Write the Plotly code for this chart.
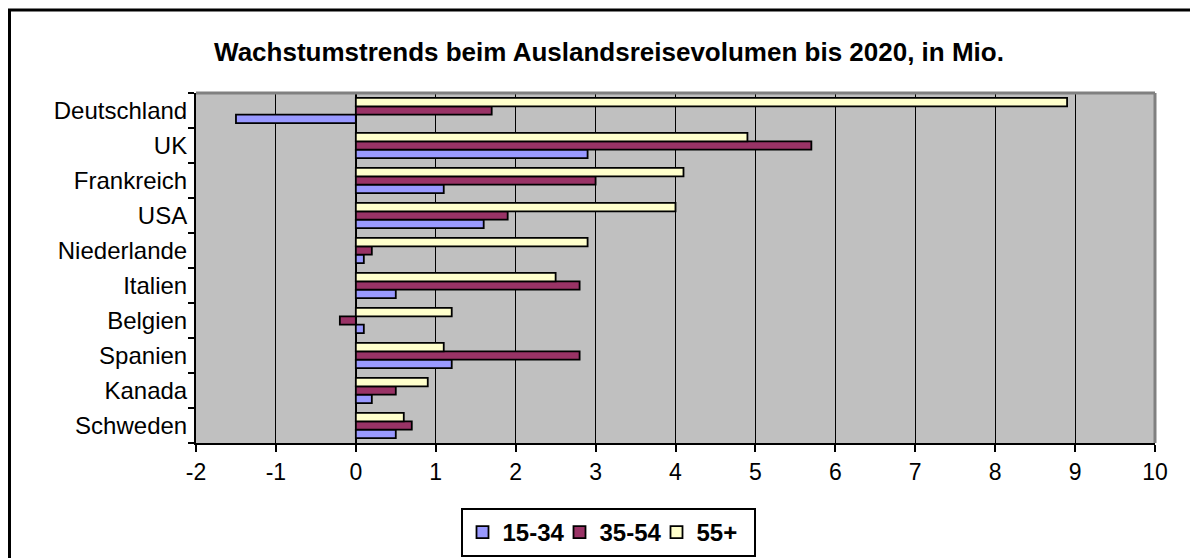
import plotly.graph_objects as go

countries = ["Deutschland", "UK", "Frankreich", "USA", "Niederlande",
             "Italien", "Belgien", "Spanien", "Kanada", "Schweden"]
age_15_34 = [-1.5, 2.9, 1.1, 1.6, 0.1, 0.5, 0.1, 1.2, 0.2, 0.5]
age_35_54 = [1.7, 5.7, 3.0, 1.9, 0.2, 2.8, -0.2, 2.8, 0.5, 0.7]
age_55_plus = [8.9, 4.9, 4.1, 4.0, 2.9, 2.5, 1.2, 1.1, 0.9, 0.6]
series_names = ["15-34", "35-54", "55+"]
series_colors = ["#9999FF", "#993366", "#FFFFCC"]
x_ticks = list(range(-2, 11))

# the page body has an 8px margin, so figure coordinates are shifted by 8px
OFF = 8
W, H = 1198 - OFF, 590 - OFF
L, R, T, B = 196 - OFF, 1155 - OFF, 93 - OFF, 443 - OFF
pw, ph = R - L, B - T

def px_x(p):
    return (p - OFF - L) / pw

def px_y(p):
    return (B - (p - OFF)) / ph

FONT = "Liberation Sans, Arial, sans-serif"

fig = go.Figure()
for name, vals, col in zip(series_names, [age_15_34, age_35_54, age_55_plus], series_colors):
    fig.add_trace(go.Bar(
        y=countries, x=vals, name=name, orientation="h",
        marker=dict(color=col, line=dict(color="black", width=1.8)),
    ))

fig.update_layout(
    width=W, height=H,
    margin=dict(l=L, r=W - R, t=T, b=H - B),
    paper_bgcolor="white",
    plot_bgcolor="#C0C0C0",
    barmode="group",
    bargap=0.28,
    bargroupgap=0.0,
    font=dict(family=FONT, color="black", size=23),
    title=dict(
        text="Wachstumstrends beim Auslandsreisevolumen bis 2020, in Mio.",
        x=(609 - OFF) / W, xanchor="center", xref="container",
        y=1 - (52 - OFF) / H, yanchor="middle", yref="container",
        font=dict(family=FONT, size=26, color="black", weight="bold"),
    ),
    xaxis=dict(
        range=[-2, 10], tickvals=x_ticks, ticktext=[str(v) for v in x_ticks],
        showgrid=True, gridcolor="black", gridwidth=1,
        zeroline=True, zerolinecolor="black", zerolinewidth=2,
        showline=True, linecolor="black", linewidth=2,
        ticks="outside", ticklen=7, tickcolor="black", tickwidth=1.5,
        tickfont=dict(family=FONT, size=23, color="black"),
        fixedrange=True,
    ),
    yaxis=dict(
        categoryorder="array", categoryarray=list(reversed(countries)),
        showgrid=False, zeroline=False,
        showline=True, linecolor="black", linewidth=2,
        ticks="outside", tickson="boundaries", ticklen=6, tickcolor="black", tickwidth=1.5,
        tickfont=dict(family=FONT, size=24, color="black"),
        ticklabelstandoff=2,
        fixedrange=True,
    ),
    legend=dict(
        orientation="h",
        x=px_x(608), xanchor="center",
        y=px_y(508), yanchor="top",
        bordercolor="black", borderwidth=2,
        bgcolor="white",
        font=dict(family=FONT, size=24, color="black", weight="bold"),
        traceorder="normal",
        entrywidth=52, entrywidthmode="pixels",
    ),
    showlegend=True,
)

# darker back-wall edges (top and right)
fig.add_shape(type="line", xref="paper", yref="paper", x0=0, x1=1, y0=1, y1=1,
              line=dict(color="#808080", width=3))
fig.add_shape(type="line", xref="paper", yref="paper", x0=1, x1=1, y0=0, y1=1,
              line=dict(color="#808080", width=3))

# outer chart border
fig.add_shape(type="rect", xref="paper", yref="paper",
              x0=px_x(9.5), x1=px_x(1240), y0=px_y(640), y1=px_y(10),
              line=dict(color="black", width=3), fillcolor="rgba(0,0,0,0)", layer="above")

fig.write_html("out.html")
